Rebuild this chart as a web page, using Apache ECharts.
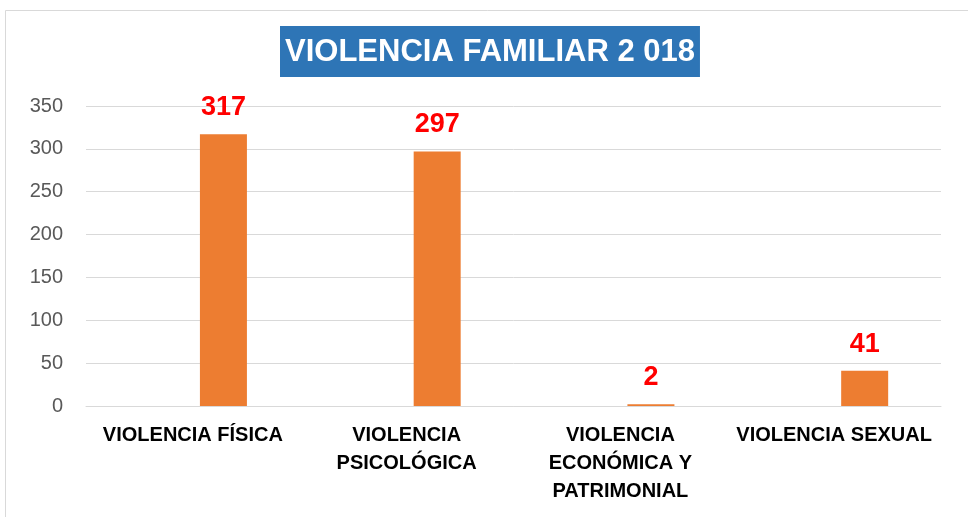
<!DOCTYPE html>
<html>
<head>
<meta charset="utf-8">
<script src="https://cdn.jsdelivr.net/npm/echarts@6/dist/echarts.min.js"></script>
<style>
  html, body { margin: 0; padding: 0; background: #fff; }
  #chart { width: 968px; height: 517px; }
</style>
</head>
<body>
<div id="chart"></div>
<script>
var categorias = ['VIOLENCIA FÍSICA', 'VIOLENCIA\nPSICOLÓGICA', 'VIOLENCIA\nECONÓMICA Y\nPATRIMONIAL', 'VIOLENCIA SEXUAL'];
var casos2018 = [317, 297, 2, 41];
var ejeY = { min: 0, max: 350, interval: 50 };

var fuente = "'Liberation Sans', Arial, sans-serif";

var chart = echarts.init(document.getElementById('chart'));
var option = {
    backgroundColor: '#fff',
    title: {
        text: 'VIOLENCIA FAMILIAR 2 018',
        left: 280,
        top: 26,
        backgroundColor: '#2E75B6',
        padding: [7, 5, 6, 5],
        textStyle: {
            color: '#fff',
            fontFamily: fuente,
            fontWeight: 'bold',
            fontSize: 31,
            lineHeight: 38
        }
    },
    graphic: [{
        type: 'rect',
        shape: { x: 5.5, y: 10.5, width: 980, height: 530 },
        style: { fill: 'none', stroke: '#d9d9d9', lineWidth: 1 },
        silent: true
    }],
    grid: { left: 86, right: 27, top: 106, bottom: 111 },
    xAxis: {
        type: 'category',
        data: categorias,
        axisLine: { lineStyle: { color: '#d9d9d9', width: 1 } },
        axisTick: { show: false },
        axisLabel: {
            margin: 15,
            color: '#000',
            fontFamily: fuente,
            fontWeight: 'bold',
            fontSize: 20,
            lineHeight: 28,
            interval: 0
        }
    },
    yAxis: {
        type: 'value',
        min: ejeY.min,
        max: ejeY.max,
        interval: ejeY.interval,
        axisLine: { show: false },
        axisTick: { show: false },
        splitLine: { lineStyle: { color: '#d9d9d9', width: 1 } },
        axisLabel: {
            margin: 23,
            color: '#595959',
            fontFamily: fuente,
            fontSize: 20
        }
    },
    series: [
        {
            // serie vacía (como en el gráfico original de Excel)
            name: 'vacía',
            type: 'bar',
            barWidth: 47,
            barGap: '30%',
            data: []
        },
        {
            name: '2018',
            type: 'bar',
            barWidth: 47,
            barGap: '30%',
            data: casos2018,
            itemStyle: { color: '#ED7D31' },
            label: {
                show: true,
                position: 'top',
                distance: 13,
                color: '#FF0000',
                fontFamily: fuente,
                fontWeight: 'bold',
                fontSize: 27,
                lineHeight: 27
            }
        }
    ]
};
chart.setOption(option);
</script>
</body>
</html>
